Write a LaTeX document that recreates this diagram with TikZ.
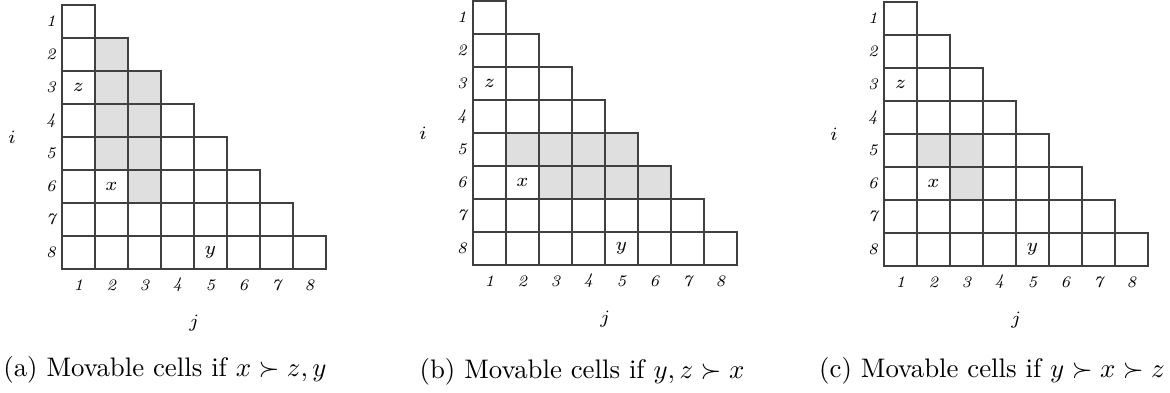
\documentclass[tikz,border=0pt]{standalone}
\usepackage{amsmath,amssymb}
\usepackage{tikz}
\usetikzlibrary{positioning}

\begin{document}
\begin{tikzpicture}[x=0.373pt, y=-0.373pt,
    cell/.style={draw=black!75, line width=0.6pt},
    movable/.style={fill=gray!25},
    idx/.style={font=\fontsize{6}{7}\selectfont\itshape},
    var/.style={font=\scriptsize}]
  \useasboundingbox (0,0) rectangle (1170,392);
  % one staircase per sub-figure, 33 units per cell
  \foreach \p/\ox/\oy/\mov in {
    a/62/5/{2/2,3/2,3/3,4/2,4/3,5/2,5/3,6/3},
    b/473/1/{5/2,5/3,5/4,5/5,6/3,6/4,6/5,6/6},
    c/884/2/{5/2,5/3,6/3}%
  }{
    \begin{scope}[shift={(\ox,\oy)}]
      \foreach \i/\j in \mov
        \fill[movable] ({(\j-1)*33},{(\i-1)*33}) rectangle ++(33,33);
      \foreach \i in {1,...,8}{
        \foreach \j in {1,...,\i}
          \draw[cell] ({(\j-1)*33},{(\i-1)*33}) rectangle ++(33,33);
        \node[idx] (\p-r\i) at (-11,{(\i-0.5)*33}) {\i};
        \node[idx] (\p-c\i) at ({(\i-0.5)*33},280) {\i};
      }
      \node[var] (\p-i) at (-50,132) {$i$};
      \node[var] (\p-j) at (132,318) {$j$};
      \node[var] (\p-z) at (16.5,82.5) {$z$};
      \node[var] (\p-x) at (49.5,181.5) {$x$};
      \node[var] (\p-y) at (148.5,247.5) {$y$};
    \end{scope}
  }
  % captions
  \node (a-cap) at (165,370) {(a) Movable cells if $x \succ z, y$};
  \node (b-cap) at (582,372) {(b) Movable cells if $y, z \succ x$};
  \node (c-cap) at (992,371) {(c) Movable cells if $y \succ x \succ z$};
\end{tikzpicture}
\end{document}
